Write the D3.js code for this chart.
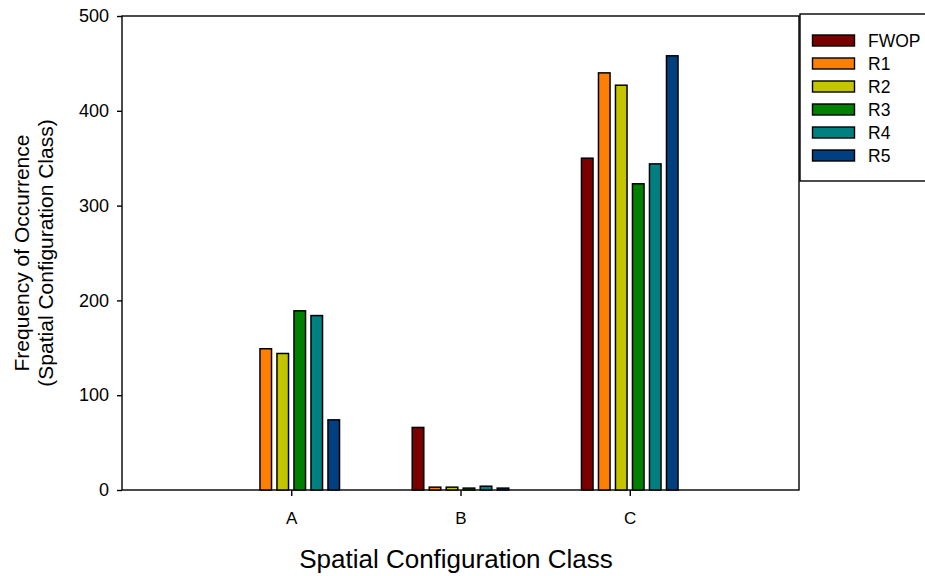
<!DOCTYPE html>
<html><head><meta charset="utf-8">
<script src="https://cdn.jsdelivr.net/npm/d3@7"></script>
<style>body{margin:0;background:#fff;} svg{display:block;font-family:Arial,"Liberation Sans",sans-serif;}</style>
</head><body>
<svg id="c" width="925" height="576"></svg>
<script>
const categories = ["A", "B", "C"];
const seriesNames = ["FWOP", "R1", "R2", "R3", "R4", "R5"];
const seriesColors = ["#7a0000", "#ff8000", "#c4c400", "#008000", "#008080", "#003f80"];
const FWOP = [0, 66, 350];
const R1 = [149, 3, 440];
const R2 = [144, 3, 427];
const R3 = [189, 2, 323];
const R4 = [184, 4, 344];
const R5 = [74, 2, 458];
const seriesValues = [FWOP, R1, R2, R3, R4, R5];
const yTicks = [0, 100, 200, 300, 400, 500];

const FONT = "Arial, 'Liberation Sans', sans-serif";
const svg = d3.select("#c");
const L = 122, R = 799, T = 16, B = 490;
const x = d3.scaleLinear().domain([0, 4]).range([L, R]);
const y = d3.scaleLinear().domain([0, 500]).range([B, T]);
const groupW = 102;
const xs = d3.scaleBand().domain(seriesNames).range([-groupW/2, groupW/2]).paddingInner(0.32).paddingOuter(0.16);

// frame
svg.append("rect").attr("x", L).attr("y", T).attr("width", R - L).attr("height", B - T)
  .attr("fill", "none").attr("stroke", "#000").attr("stroke-width", 1.4);

// bars
categories.forEach((c, ci) => {
  seriesNames.forEach((s, si) => {
    const v = seriesValues[si][ci];
    if (v <= 0) return;
    svg.append("rect")
      .attr("x", x(ci + 1) + xs(s))
      .attr("y", y(v))
      .attr("width", xs.bandwidth())
      .attr("height", y(0) - y(v))
      .attr("fill", seriesColors[si])
      .attr("stroke", "#000").attr("stroke-width", 1.5);
  });
});

// axes
const yAxis = d3.axisLeft(y).tickValues(yTicks).tickSize(5).tickSizeOuter(0).tickPadding(8);
const gy = svg.append("g").attr("transform", `translate(${L},0)`).call(yAxis)
  .attr("font-size", 18).attr("font-family", FONT);
gy.select(".domain").remove();
gy.selectAll("text").attr("fill", "#000");
gy.selectAll("line").attr("stroke-width", 1.4);

const xAxis = d3.axisBottom(x).tickValues([1, 2, 3]).tickFormat(d => categories[d - 1]).tickSize(6).tickSizeOuter(0).tickPadding(16);
const gx = svg.append("g").attr("transform", `translate(0,${B})`).call(xAxis)
  .attr("font-size", 17).attr("font-family", FONT);
gx.select(".domain").remove();
gx.selectAll("text").attr("fill", "#000");
gx.selectAll("line").attr("stroke-width", 1.4);

// axis titles
svg.append("text").attr("x", 456).attr("y", 568).attr("text-anchor", "middle")
  .attr("font-size", 26).text("Spatial Configuration Class");
const yt = svg.append("text").attr("transform", "translate(0,253) rotate(-90)").attr("text-anchor", "middle").attr("font-size", 21);
yt.append("tspan").attr("x", 0).attr("y", 29).text("Frequency of Occurrence");
yt.append("tspan").attr("x", 0).attr("y", 53).text("(Spatial Configuration Class)");

// legend
svg.append("rect").attr("x", 800).attr("y", 14).attr("width", 140).attr("height", 167)
  .attr("fill", "#fff").attr("stroke", "#000").attr("stroke-width", 1.4);
const lg = svg.append("g");
seriesNames.forEach((s, i) => {
  const cy = 40.5 + i * 23;
  lg.append("rect").attr("x", 812.5).attr("y", cy - 5.5).attr("width", 42).attr("height", 11)
    .attr("fill", seriesColors[i]).attr("stroke", "#000").attr("stroke-width", 1.4);
  lg.append("text").attr("x", 868).attr("y", cy + 6).attr("font-size", 17.5).text(s);
});
</script>
</body></html>
